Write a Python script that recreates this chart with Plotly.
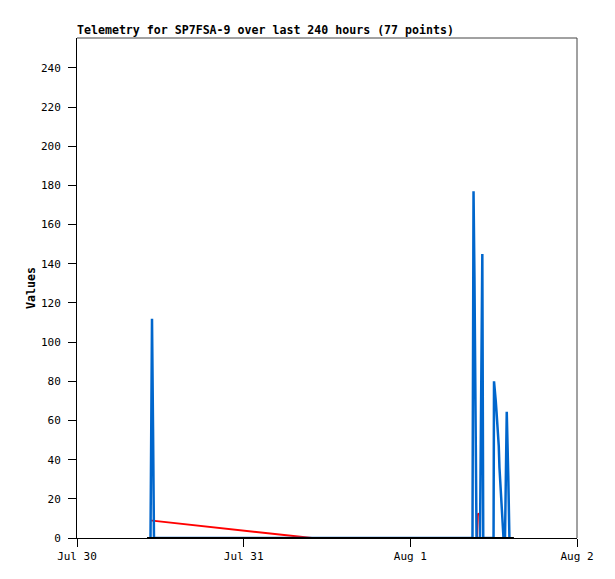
import plotly.graph_objects as go

# telemetry series
red_time = ["2024-07-30 10:31", "2024-07-31 09:50", "2024-08-01 09:36",
            "2024-08-01 09:40", "2024-08-01 09:58", "2024-08-01 10:02"]
red_vals = [9, 0, 0, 12, 12.5, 0]

blue_time = ["2024-07-30 10:35", "2024-07-30 10:39", "2024-07-30 10:48", "2024-07-30 10:57",
             "2024-07-30 11:05", "2024-08-01 08:57", "2024-08-01 09:06", "2024-08-01 09:14",
             "2024-08-01 09:23", "2024-08-01 09:32", "2024-08-01 10:02", "2024-08-01 10:13",
             "2024-08-01 10:22", "2024-08-01 10:30", "2024-08-01 11:59", "2024-08-01 12:03",
             "2024-08-01 12:11", "2024-08-01 12:18", "2024-08-01 12:24", "2024-08-01 12:31",
             "2024-08-01 12:37", "2024-08-01 12:44", "2024-08-01 12:50", "2024-08-01 12:57",
             "2024-08-01 13:03", "2024-08-01 13:10", "2024-08-01 13:16", "2024-08-01 13:25",
             "2024-08-01 13:38", "2024-08-01 13:46", "2024-08-01 13:53", "2024-08-01 14:06",
             "2024-08-01 14:16"]
blue_vals = [0, 56, 112, 56, 0, 0, 177, 133, 45, 0, 0, 73, 145, 0, 0, 80,
             76, 70, 65, 60, 52, 47, 36, 28, 18.5, 12, 6.6, 0, 0, 53.6, 64.5, 32, 0]

black_time = ["2024-07-30 10:05", "2024-08-01 14:55"]
black_vals = [0, 0]

x_ticks = ["2024-07-30", "2024-07-31", "2024-08-01", "2024-08-02"]
x_labels = ["Jul 30", "Jul 31", "Aug 1", "Aug 2"]

mono = "DejaVu Sans Mono"

fig = go.Figure()
fig.add_trace(go.Scatter(x=red_time, y=red_vals, mode="lines",
                         line=dict(color="#ff0000", width=2)))
fig.add_trace(go.Scatter(x=blue_time, y=blue_vals, mode="lines",
                         line=dict(color="#0066cc", width=2.5)))
fig.add_trace(go.Scatter(x=black_time, y=black_vals, mode="lines",
                         line=dict(color="#000000", width=2)))

# page body adds an 8px offset, margins compensate for it
fig.update_layout(
    width=615, height=579,
    margin=dict(l=69, r=46, t=30, b=49),
    paper_bgcolor="white", plot_bgcolor="white",
    showlegend=False,
    title=dict(text="<b>Telemetry for SP7FSA-9 over last 240 hours (77 points)</b>",
               x=69 / 615, xanchor="left", y=1 - 22 / 579, yanchor="middle",
               font=dict(family=mono, size=11.6, color="black")),
    font=dict(family=mono, size=11, color="black"),
    shapes=[
        dict(type="line", xref="paper", yref="paper", x0=0, x1=1, y0=1, y1=1,
             line=dict(color="#444444", width=1)),
        dict(type="line", xref="paper", yref="paper", x0=1, x1=1, y0=0, y1=1,
             line=dict(color="#444444", width=1)),
    ],
)

fig.update_xaxes(
    type="date", range=["2024-07-30", "2024-08-02"],
    tickvals=x_ticks, ticktext=x_labels,
    showgrid=False, zeroline=False,
    showline=True, linecolor="black", linewidth=1,
    ticks="outside", ticklen=8, tickcolor="black",
    tickfont=dict(family=mono, size=11),
)
fig.update_yaxes(
    range=[0, 255.3], tickvals=list(range(0, 241, 20)),
    showgrid=False, zeroline=False,
    showline=True, linecolor="black", linewidth=1,
    ticks="outside", ticklen=8, tickcolor="black",
    ticklabelstandoff=5,
    tickfont=dict(family=mono, size=11),
    title=dict(text="<b>Values</b>", font=dict(family=mono, size=11.6), standoff=2),
)

fig.write_html("out.html")
